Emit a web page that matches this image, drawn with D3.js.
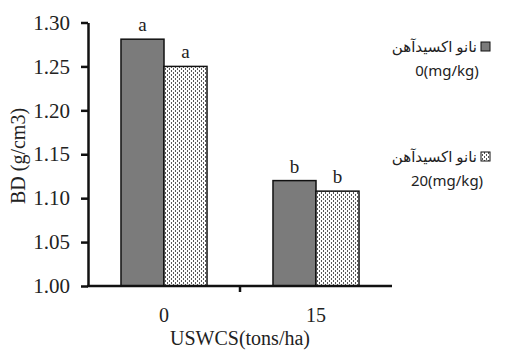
<!DOCTYPE html>
<html>
<head>
<meta charset="utf-8">
<script src="https://cdn.jsdelivr.net/npm/d3@7"></script>
<style>
  body { margin: 0; background: #fff; }
  svg { display: block; }
</style>
</head>
<body>
<div id="chart"></div>
<script>
// data
var categories = ["0", "15"];
var seriesNames = ["نانو اكسيدآهن", "نانو اكسيدآهن"];
var seriesDoses = ["0(mg/kg)", "20(mg/kg)"];
var bdDose0 = [1.281, 1.12];
var bdDose20 = [1.25, 1.108];
var letters0 = ["a", "b"];
var letters20 = ["a", "b"];
var yTicks = [1.00, 1.05, 1.10, 1.15, 1.20, 1.25, 1.30];

var SERIF = "'Liberation Serif', 'Times New Roman', serif";
var SANS = "'Noto Sans', 'DejaVu Sans', sans-serif";

var W = 515, H = 350;
var svg = d3.select("#chart").append("svg").attr("width", W).attr("height", H);

var defs = svg.append("defs");
var pat = defs.append("pattern").attr("id", "dots")
  .attr("patternUnits", "userSpaceOnUse").attr("width", 4).attr("height", 4);
pat.append("rect").attr("width", 4).attr("height", 4).attr("fill", "#fff");
pat.append("rect").attr("x", 0).attr("y", 0).attr("width", 1).attr("height", 2).attr("fill", "#555");
pat.append("rect").attr("x", 2).attr("y", 2).attr("width", 1).attr("height", 2).attr("fill", "#555");

var fills = ["#7b7b7b", "url(#dots)"];

var y = d3.scaleLinear().domain([1.0, 1.3]).range([286, 22.5]);
var x0 = d3.scaleBand().domain(categories).range([88, 392])
  .paddingInner(0.434).paddingOuter(0.217);
var x1 = d3.scaleBand().domain([0, 1]).range([0, x0.bandwidth()]);

var groups = categories.map(function(c, i) {
  return {cat: c, vals: [bdDose0[i], bdDose20[i]], lets: [letters0[i], letters20[i]]};
});

var g = svg.selectAll("g.grp").data(groups).enter().append("g")
  .attr("class", "grp")
  .attr("transform", function(d) { return "translate(" + x0(d.cat) + ",0)"; });

g.selectAll("rect").data(function(d) { return d.vals; }).enter().append("rect")
  .attr("x", function(d, j) { return x1(j); })
  .attr("y", function(d) { return y(d); })
  .attr("width", x1.bandwidth())
  .attr("height", function(d) { return y(1.0) - y(d); })
  .attr("fill", function(d, j) { return fills[j]; })
  .attr("stroke", "#111")
  .attr("stroke-width", 1.5);

g.selectAll("text.let").data(function(d) {
    return d.vals.map(function(v, j) { return {v: v, l: d.lets[j], j: j}; });
  }).enter().append("text")
  .attr("class", "let")
  .attr("x", function(d) { return x1(d.j) + x1.bandwidth() / 2; })
  .attr("y", function(d) { return y(d.v) - 8; })
  .attr("text-anchor", "middle")
  .style("font-family", SERIF)
  .style("font-size", "19px")
  .attr("fill", "#222")
  .text(function(d) { return d.l; });

// y axis
var yAxis = svg.append("g").attr("transform", "translate(88,0)")
  .call(d3.axisLeft(y).tickValues(yTicks).tickSize(7).tickSizeOuter(0).tickPadding(11)
    .tickFormat(d3.format(".2f")));
yAxis.attr("font-family", null).attr("font-size", null);
yAxis.selectAll("path, line").attr("stroke", "#111").attr("stroke-width", 2.5);
yAxis.selectAll("text")
  .style("font-family", SERIF)
  .style("font-size", "21px").attr("fill", "#222");

// x axis
svg.append("line").attr("x1", 87).attr("x2", 392).attr("y1", y(1.0)).attr("y2", y(1.0))
  .attr("stroke", "#111").attr("stroke-width", 2.5);
var mid = (x0(categories[0]) + x0.bandwidth() + x0(categories[1])) / 2;
svg.append("line").attr("x1", mid).attr("x2", mid).attr("y1", y(1.0)).attr("y2", y(1.0) + 6)
  .attr("stroke", "#111").attr("stroke-width", 2.5);
svg.selectAll("text.cat").data(categories).enter().append("text")
  .attr("class", "cat")
  .attr("x", function(d) { return x0(d) + x0.bandwidth() / 2; })
  .attr("y", 322)
  .attr("text-anchor", "middle")
  .style("font-family", SERIF)
  .style("font-size", "20px").attr("fill", "#222")
  .text(function(d) { return d; });

svg.append("text").attr("x", 240).attr("y", 345).attr("text-anchor", "middle")
  .style("font-family", SERIF)
  .style("font-size", "20px").attr("fill", "#222")
  .text("USWCS(tons/ha)");

svg.append("text").attr("transform", "translate(25,156) rotate(-90)")
  .attr("text-anchor", "middle")
  .style("font-family", SERIF)
  .style("font-size", "20px").attr("fill", "#222")
  .text("BD (g/cm3)");

// legend
var legY = [47, 157];
var leg = svg.selectAll("g.leg").data(seriesNames).enter().append("g").attr("class", "leg");
leg.append("rect")
  .attr("x", 481).attr("y", function(d, i) { return legY[i] - 5; })
  .attr("width", 9).attr("height", 9)
  .attr("fill", function(d, i) { return fills[i]; })
  .attr("stroke", "#111").attr("stroke-width", 1);
leg.append("text")
  .attr("x", 477).attr("y", function(d, i) { return legY[i] + 5; })
  .attr("text-anchor", "end")
  .style("font-family", SANS)
  .style("font-size", "15px").attr("fill", "#222")
  .text(function(d) { return d; });
leg.append("text")
  .attr("x", 447).attr("y", function(d, i) { return legY[i] + 29; })
  .attr("text-anchor", "middle")
  .style("font-family", SANS)
  .style("font-size", "15px").attr("fill", "#222")
  .text(function(d, i) { return seriesDoses[i]; });
</script>
</body>
</html>
